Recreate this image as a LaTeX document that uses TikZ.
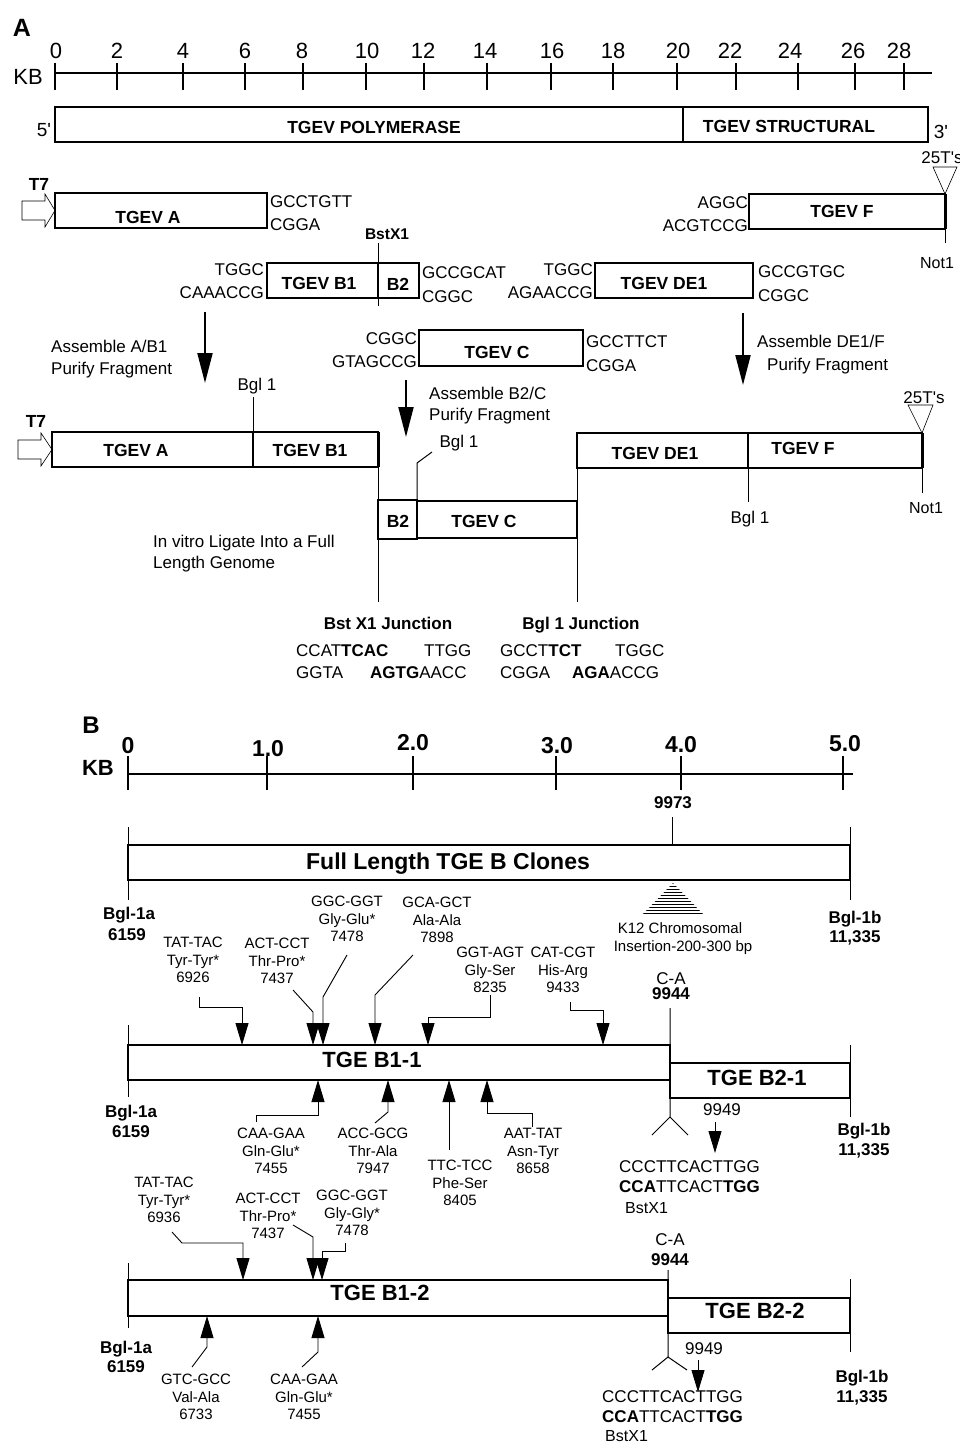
\documentclass[tikz,border=0pt]{standalone}
\usepackage{fontspec}
\setmainfont{Liberation Sans}
\usetikzlibrary{arrows.meta,patterns}
\begin{document}
\begin{tikzpicture}[x=1pt,y=-1pt,
  seg/.style={draw,line width=1.1pt,inner sep=0,outer sep=0,anchor=north west},
  lin/.style={line width=1pt},
  ta/.style={inner sep=0,text height=12.2pt,text depth=0pt,font=\fontsize{17}{20}\selectfont},
  tab/.style={inner sep=0,text height=12.5pt,text depth=0pt,font=\bfseries\fontsize{17.5}{20}\selectfont},
  tbg/.style={inner sep=0,text height=12.2pt,text depth=0pt,font=\bfseries\fontsize{17}{20}\selectfont},
  tbig/.style={inner sep=0,text height=15.8pt,text depth=0pt,font=\bfseries\fontsize{22}{26}\selectfont},
  tsm/.style={inner sep=0,text height=10.7pt,text depth=0pt,font=\fontsize{15}{17.5}\selectfont},
  mut/.style={inner sep=0,align=center,font=\fontsize{15}{17.5}\selectfont},
  prom/.style={line width=0.6pt},
  bigarr/.style={line width=2pt,-{Triangle[length=30pt,width=15pt]}},
  mutarr/.style={line width=0.9pt,-{Triangle[length=22pt,width=13pt]}}]
\useasboundingbox (0,0) rectangle (960,1445);
\fill[white] (0,0) rectangle (960,1445);

\node[inner sep=0,text height=18pt,text depth=0pt,font=\bfseries\fontsize{25}{25}\selectfont] (la) at (22,28) {A};
\node[inner sep=0,text height=15.8pt,text depth=0pt,font=\fontsize{22}{22}\selectfont] (kba) at (28,77) {KB};
\draw[line width=1.2pt] (55,73) -- (932,73);
\foreach \v/\x/\t in {0/55/56,2/117/117,4/183/183,6/245/245,8/303/302,10/366/367,12/424/423,14/487/485,16/551/552,18/613/613,20/677/678,22/736/730,24/798/790,26/855/853,28/904/899}
{
\draw[line width=1.2pt] (\x,63) -- (\x,90);
\node[inner sep=0,text height=15.8pt,text depth=0pt,font=\fontsize{22}{22}\selectfont] (ka\v) at (\t,51) {\v};
}

\node[seg,minimum width=628pt,minimum height=35pt] (pol) at (55,107) {};
\node[seg,minimum width=245pt,minimum height=35pt] (str) at (683,107) {};
\node[tab] (polt) at (374,127) {TGEV POLYMERASE};
\node[tab] (strt) at (789,126) {TGEV STRUCTURAL};
\node[inner sep=0,text height=14pt,text depth=0pt,font=\fontsize{19}{20}\selectfont] (p5) at (44,129) {5\textquotesingle};
\node[inner sep=0,text height=14pt,text depth=0pt,font=\fontsize{19}{20}\selectfont] (p3) at (941,131) {3\textquotesingle};

\node[seg,minimum width=212pt,minimum height=35pt] (fa) at (55,193) {};
\draw[prom] (22,201) -- (45,201) -- (45,194) -- (fa.west) -- (45,227) -- (45,220) -- (22,220) -- cycle;
\node[tab] (t7at) at (39,184) {T7};
\node[tab] (fat) at (148,217) {TGEV A};
\node[ta,anchor=west] (fa1) at (270,201) {GCCTGTT};
\node[ta,anchor=west] (fa2) at (270,224) {CGGA};
\node[tab,font=\bfseries\fontsize{15.5}{18}\selectfont] (bsx) at (387,233) {BstX1};

\node[seg,minimum width=196pt,minimum height=35pt] (ff) at (749,194) {};
\draw[line width=3pt] (ff.north east) -- (ff.south east);
\draw[lin] (ff.south east) -- ++(0,14);
\draw[line width=0.6pt] (933,167) -- (957,167) -- (ff.north east) -- cycle;
\node[tab] (fft) at (842,211) {TGEV F};
\node[ta,anchor=east] (ff1) at (748,202) {AGGC};
\node[ta,anchor=east] (ff2) at (748,225) {ACGTCCG};
\node[ta] (tt1) at (942,157) {25T\textquotesingle s};
\node[ta,font=\fontsize{16}{19}\selectfont] (nt1) at (937,262) {Not1};

\node[seg,minimum width=111pt,minimum height=35pt] (b1) at (267,263) {};
\node[seg,minimum width=41pt,minimum height=35pt] (b2) at (378,263) {};
\draw[lin] (b2.north west) ++(0,-20) -- ++(0,63);
\node[tab] (b1t) at (319,283) {TGEV B1};
\node[tab] (b2t) at (398,284) {B2};
\node[ta,anchor=east] (b1a) at (264,269) {TGGC};
\node[ta,anchor=east] (b1b) at (264,292) {CAAACCG};
\node[ta,anchor=west] (b2a) at (422,272) {GCCGCAT};
\node[ta,anchor=west] (b2b) at (422,296) {CGGC};

\node[seg,minimum width=158pt,minimum height=35pt] (de) at (595,263) {};
\node[tab] (det) at (664,283) {TGEV DE1};
\node[ta,anchor=east] (dea) at (593,269) {TGGC};
\node[ta,anchor=east] (deb) at (593,292) {AGAACCG};
\node[ta,anchor=west] (dec) at (758,271) {GCCGTGC};
\node[ta,anchor=west] (ded) at (758,295) {CGGC};

\node[seg,minimum width=164pt,minimum height=36pt] (c) at (419,330) {};
\node[tab] (ct) at (497,352) {TGEV C};
\node[ta,anchor=east] (ca) at (417,338) {CGGC};
\node[ta,anchor=east] (cb) at (417,361) {GTAGCCG};
\node[ta,anchor=west] (cc) at (586,341) {GCCTTCT};
\node[ta,anchor=west] (cd) at (586,365) {CGGA};

\coordinate (ar1) at (205,312);
\coordinate (ar1e) at (205,383);
\coordinate (ar2) at (406,380);
\coordinate (ar2e) at (406,437);
\coordinate (ar3) at (743,313);
\coordinate (ar3e) at (743,385);
\draw[bigarr] (ar1) -- (ar1e);
\draw[bigarr] (ar2) -- (ar2e);
\draw[bigarr] (ar3) -- (ar3e);
\node[ta,anchor=west] (as1) at (51,346) {Assemble A/B1};
\node[ta,anchor=west] (pf1) at (51,368) {Purify Fragment};
\node[ta,anchor=west] (as2) at (429,393) {Assemble B2/C};
\node[ta,anchor=west] (pf2) at (429,414) {Purify Fragment};
\node[ta,anchor=west] (as3) at (757,341) {Assemble DE1/F};
\node[ta,anchor=west] (pf3) at (767,364) {Purify Fragment};

\node[seg,minimum width=201pt,minimum height=35pt] (a2) at (52,432) {};
\draw[prom] (18,440) -- (41,440) -- (41,433) -- (a2.west) -- (41,466) -- (41,459) -- (18,459) -- cycle;
\node[tab] (t7bt) at (36,421) {T7};
\node[seg,line width=1.8pt,minimum width=125pt,minimum height=35pt] (b12) at (253,432) {};
\draw[line width=3pt] (b12.north east) -- (b12.south east);
\draw[lin] (b12.north west) -- ++(0,-35);
\node[tab] (a2t) at (136,450) {TGEV A};
\node[tab] (b12t) at (310,450) {TGEV B1};
\node[ta] (bg1) at (257,384) {Bgl 1};

\node[seg,minimum width=39pt,minimum height=39pt] (b22) at (378,500) {};
\node[seg,minimum width=160pt,minimum height=37pt] (c2) at (417,501) {};
\draw[lin] (b12.south east) -- (b22.north west);
\draw[lin] (b22.south west) -- ++(0,63);
\draw[lin] (c2.north west) -- ++(0,-38) -- ++(15,-11);
\node[tab] (b22t) at (398,521) {B2};
\node[tab] (c2t) at (484,521) {TGEV C};
\node[ta] (bg2) at (459,441) {Bgl 1};

\node[seg,line width=1.5pt,minimum width=171pt,minimum height=35pt] (de2) at (577,433) {};
\node[seg,line width=1.5pt,minimum width=174pt,minimum height=35pt] (f2) at (748,433) {};
\draw[line width=3pt] (f2.north east) -- (f2.south east);
\draw[lin] (f2.south east) -- ++(0,25);
\draw[line width=0.6pt] (908,405) -- (933,405) -- (f2.north east) -- cycle;
\draw[lin] (de2.south west) -- (c2.north east);
\draw[lin] (c2.south east) -- ++(0,64);
\draw[lin] (f2.south west) -- ++(0,34);
\node[tab] (de2t) at (655,453) {TGEV DE1};
\node[tab] (f2t) at (803,448) {TGEV F};
\node[ta] (tt2) at (924,397) {25T\textquotesingle s};
\node[ta,font=\fontsize{16}{19}\selectfont] (nt2) at (926,507) {Not1};
\node[ta] (bg3) at (750,517) {Bgl 1};

\node[ta,anchor=west] (iv1) at (153,541) {In vitro Ligate Into a Full};
\node[ta,anchor=west] (iv2) at (153,562) {Length Genome};

\node[tbg] (jb) at (388,623) {Bst X1 Junction};
\node[tbg] (jg) at (581,623) {Bgl 1 Junction};
\node[ta,anchor=west] (j1) at (296,650) {CCAT\textbf{TCAC}};
\node[ta,anchor=west] (j2) at (424,650) {TTGG};
\node[ta,anchor=west] (j3) at (296,672) {GGTA};
\node[ta,anchor=west] (j4) at (370,672) {\textbf{AGTG}AACC};
\node[ta,anchor=west] (j5) at (500,650) {GCCT\textbf{TCT}};
\node[ta,anchor=west] (j6) at (615,650) {TGGC};
\node[ta,anchor=west] (j7) at (500,672) {CGGA};
\node[ta,anchor=west] (j8) at (572,672) {\textbf{AGA}ACCG};

\node[inner sep=0,text height=17pt,text depth=0pt,font=\bfseries\fontsize{24}{24}\selectfont] (lb) at (91,725) {B};
\node[inner sep=0,text height=15.8pt,text depth=0pt,font=\bfseries\fontsize{22}{22}\selectfont] (kbb) at (98,768) {KB};
\draw[line width=1.2pt] (128,774) -- (853,774);
\foreach \v/\x/\t/\y [count=\i] in {0/128/128/745,1.0/267/268/748,2.0/413/413/742,3.0/556/557/745,4.0/681/681/744,5.0/843/845/743}
{
\draw[line width=1.2pt] (\x,756) -- (\x,790);
\node[inner sep=0,text height=16.5pt,text depth=0pt,font=\bfseries\fontsize{23}{23}\selectfont] (kbb\i) at (\t,\y) {\v};
}
\node[tbg] (n9973) at (673,802) {9973};
\draw[lin] (n9973.south) ++(-1,9) -- ++(0,28);

\node[seg,minimum width=722pt,minimum height=35pt] (full) at (128,845) {};
\draw[lin] (full.north west) ++(0,-18) -- ++(0,73);
\draw[lin] (full.north east) ++(0,-18) -- ++(0,73);
\node[tbig,text height=16.5pt,font=\bfseries\fontsize{23}{26}\selectfont] (fullt) at (448,861) {Full Length TGE B Clones};
\fill[pattern=horizontal lines] (673,883) -- (704,915) -- (642,915) -- cycle;
\node[tsm] (k12a) at (680,928) {K12 Chromosomal};
\node[tsm] (k12b) at (683,946) {Insertion-200-300 bp};
\node[tbg] (ga1) at (129,913) {Bgl-1a};
\node[tbg] (ga1n) at (127,934) {6159};
\node[tbg] (gb1) at (855,917) {Bgl-1b};
\node[tbg] (gb1n) at (855,936) {11,335};

\node[mut] (m1) at (193,960) {TAT-TAC\\Tyr-Tyr*\\6926};
\node[mut] (m2) at (277,961) {ACT-CCT\\Thr-Pro*\\7437};
\node[mut] (m3) at (347,919) {GGC-GGT\\Gly-Glu*\\7478};
\node[mut] (m4) at (437,920) {GCA-GCT\\Ala-Ala\\7898};
\node[mut] (m5) at (490,970) {GGT-AGT\\Gly-Ser\\8235};
\node[mut] (m6) at (563,970) {CAT-CGT\\His-Arg\\9433};
\node[ta] (ca1) at (671,978) {C-A};
\node[tbg] (ca1n) at (671,993) {9944};

\node[seg,minimum width=542pt,minimum height=35pt] (tb11) at (128,1045) {};
\node[seg,minimum width=180pt,minimum height=35pt] (tb21) at (670,1063) {};
\node[tbig] (tb11t) at (372,1060) {TGE B1-1};
\node[tbig] (tb21t) at (757,1078) {TGE B2-1};
\draw[lin] (tb11.north west) ++(0,-20) -- ++(0,72);
\draw[lin] (tb11.north east) ++(0,-37) -- (tb21.south west) -- ++(0,19) coordinate (sp1) -- ++(-18,18) (sp1) -- ++(18,18);
\draw[lin] (tb21.north east) ++(0,-18) -- ++(0,72);

\foreach \n/\x in {p1/242,p2/313,p3/323,p4/375,p5/428,p6/603}
\coordinate (\n) at (\x,1045);
\foreach \n/\x in {q1/318,q2/388,q3/449,q4/487}
\coordinate (\n) at (\x,1080);
\draw[mutarr] ([shift={(6,14)}]m1.south) -- ++(0,10) -| (p1);
\draw[mutarr] ([shift={(16,6)}]m2.south) -- ++(20,22) -- (p2);
\draw[mutarr] ([shift={(0,13)}]m3.south) -- ++(-24,42) -- (p3);
\draw[mutarr] ([shift={(-24,12)}]m4.south) -- ++(-38,40) -- (p4);
\draw[mutarr] ([shift={(0,2)}]m5.south) -- ++(0,22) -| (p5);
\draw[mutarr] ([shift={(7,9)}]m6.south) -- ++(0,8) -| (p6);

\node[mut] (n1) at (271,1151) {CAA-GAA\\Gln-Glu*\\7455};
\node[mut] (n2) at (373,1151) {ACC-GCG\\Thr-Ala\\7947};
\node[mut] (n3) at (460,1183) {TTC-TCC\\Phe-Ser\\8405};
\node[mut] (n4) at (533,1151) {AAT-TAT\\Asn-Tyr\\8658};
\draw[mutarr] ([shift={(-15,-6)}]n1.north) -- ++(0,-7) -| (q1);
\draw[mutarr] ([shift={(2,-5)}]n2.north) -- ++(13,-11) -- (q2);
\draw[mutarr] ([shift={(-11,-10)}]n3.north) -- (q3);
\draw[mutarr] ([shift={(-1,-1)}]n4.north) -- ++(0,-14) -| (q4);

\node[tbg] (ga2) at (131,1111) {Bgl-1a};
\node[tbg] (ga2n) at (131,1131) {6159};
\node[tbg] (gb2) at (864,1129) {Bgl-1b};
\node[tbg] (gb2n) at (864,1149) {11,335};
\node[ta] (w1) at (722,1109) {9949};
\coordinate (s1) at (715,1153);
\draw[mutarr] ([shift={(-7,7)}]w1.south) -- (s1);
\node[ta,anchor=west] (sq1) at (619,1166) {CCCTTCACTTGG};
\node[ta,anchor=west] (sq2) at (619,1186) {\textbf{CCA}TTCACT\textbf{TGG}};
\node[ta,font=\fontsize{16}{19}\selectfont,anchor=west] (bx1) at (625,1207) {BstX1};
\node[ta] (ca2) at (670,1239) {C-A};
\node[tbg] (ca2n) at (670,1259) {9944};

\node[mut] (k1) at (164,1200) {TAT-TAC\\Tyr-Tyr*\\6936};
\node[mut] (k2) at (268,1216) {ACT-CCT\\Thr-Pro*\\7437};
\node[mut] (k3) at (352,1213) {GGC-GGT\\Gly-Gly*\\7478};
\foreach \n/\x in {r1/243,r2/313,r3/322}
\coordinate (\n) at (\x,1280);
\draw[mutarr] ([shift={(8,9)}]k1.south) -- ++(10,11) -| (r1);
\draw[mutarr] ([shift={(25,-14)}]k2.south) -- ++(20,12) -- (r2);
\draw[mutarr] ([shift={(-7,7)}]k3.south) -- ++(0,8) -| (r3);

\node[seg,minimum width=540pt,minimum height=36pt] (tb12) at (128,1280) {};
\node[seg,minimum width=182pt,minimum height=35pt] (tb22) at (668,1298) {};
\node[tbig] (tb12t) at (380,1293) {TGE B1-2};
\node[tbig] (tb22t) at (755,1311) {TGE B2-2};
\draw[lin] (tb12.north west) ++(0,-17) -- ++(0,65);
\draw[lin] (tb12.north east) ++(0,-10) -- (tb22.south west) -- ++(0,24) coordinate (sp2) -- ++(-16,13) (sp2) -- ++(19,13);
\draw[lin] (tb22.north east) ++(0,-19) -- ++(0,73);

\coordinate (u1) at (207,1316);
\coordinate (u2) at (318,1316);
\node[mut] (v1) at (196,1397) {GTC-GCC\\Val-Ala\\6733};
\node[mut] (v2) at (304,1397) {CAA-GAA\\Gln-Glu*\\7455};
\draw[mutarr] ([shift={(-4,-7)}]v1.north) -- ++(15,-20) -- (u1);
\draw[mutarr] ([shift={(-2,-7)}]v2.north) -- ++(16,-15) -- (u2);

\node[tbg] (ga3) at (126,1347) {Bgl-1a};
\node[tbg] (ga3n) at (126,1366) {6159};
\node[tbg] (gb3) at (862,1376) {Bgl-1b};
\node[tbg] (gb3n) at (862,1396) {11,335};
\node[ta] (w2) at (704,1348) {9949};
\coordinate (s2) at (698,1392);
\draw[mutarr] ([shift={(-6,6)}]w2.south) -- (s2);
\node[ta,anchor=west] (sq3) at (602,1396) {CCCTTCACTTGG};
\node[ta,anchor=west] (sq4) at (602,1416) {\textbf{CCA}TTCACT\textbf{TGG}};
\node[ta,font=\fontsize{16}{19}\selectfont,anchor=west] (bx2) at (605,1435) {BstX1};
\end{tikzpicture}
\end{document}
